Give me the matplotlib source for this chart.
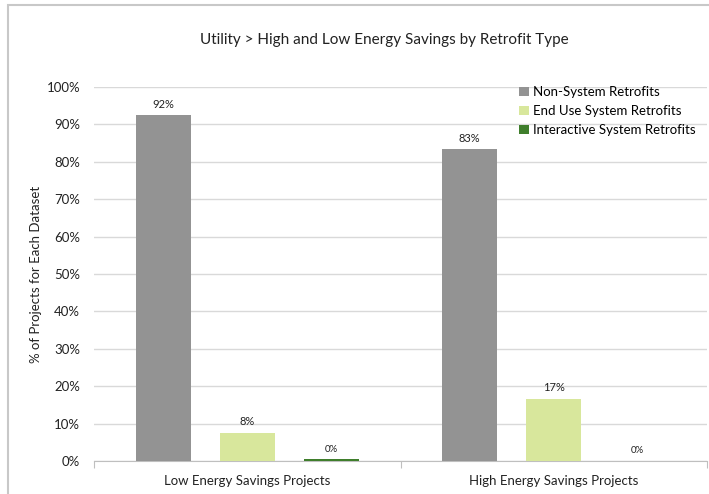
import numpy as np
import matplotlib.pyplot as plt
from matplotlib.patches import Rectangle

plt.rcParams['font.family'] = ['Lato', 'DejaVu Sans']

categories = ['Low Energy Savings Projects', 'High Energy Savings Projects']
series = ['Non-System Retrofits', 'End Use System Retrofits', 'Interactive System Retrofits']
values = {
    'Non-System Retrofits': [92.4, 83.4],
    'End Use System Retrofits': [7.6, 16.6],
    'Interactive System Retrofits': [0.5, 0.0],
}
labels = {
    'Non-System Retrofits': ['92%', '83%'],
    'End Use System Retrofits': ['8%', '17%'],
    'Interactive System Retrofits': ['0%', '0%'],
}
colors = ['#939393', '#d8e79c', '#3f7e2c']

fig = plt.figure(figsize=(7.09, 4.94), dpi=100)
ax = fig.add_axes([94 / 709, 1 - 461 / 494, 613 / 709, 374 / 494])

# outer chart frame
fig.patches.append(Rectangle((8 / 709, -0.1), 1.2, 1 - 5 / 494 + 0.1, transform=fig.transFigure,
                             fill=False, edgecolor='#c8c8c8', linewidth=1.5))

x = np.arange(len(categories))
width = 0.18
offsets = [-0.274, 0, 0.274]
for i, s in enumerate(series):
    bars = ax.bar(x + offsets[i], values[s], width, color=colors[i], label=s, zorder=3)
    fs = 7 if i == 2 else 8
    for b, lab in zip(bars, labels[s]):
        ax.annotate(lab, (b.get_x() + b.get_width() / 2, b.get_height()),
                    xytext=(0, 4), textcoords='offset points', ha='center', va='bottom',
                    fontsize=fs, color='#222222')

ax.set_xlim(-0.5, 1.5)
ax.set_ylim(0, 100)
ax.set_yticks(np.arange(0, 101, 10))
ax.set_yticklabels([f'{v}%' for v in range(0, 101, 10)], fontsize=9.5, color='#222222')
ax.yaxis.grid(True, color='#d9d9d9', linewidth=1, zorder=0)
ax.tick_params(axis='y', length=0, pad=10)

ax.set_xticks([-0.5, 0.5, 1.5])
ax.set_xticklabels([])
ax.set_xticks(x, minor=True)
ax.set_xticklabels(categories, minor=True, fontsize=9.5, color='#222222')
ax.tick_params(axis='x', which='major', length=5, color='#bfbfbf', direction='out')
ax.tick_params(axis='x', which='minor', length=0, pad=10)

for sp in ['top', 'right', 'left']:
    ax.spines[sp].set_visible(False)
ax.spines['bottom'].set_color('#bfbfbf')

ax.set_ylabel('% of Projects for Each Dataset', fontsize=9.5, color='#222222', labelpad=3)

fig.text(384 / 709, 1 - 40 / 494, 'Utility > High and Low Energy Savings by Retrofit Type',
         ha='center', va='center', fontsize=11, color='#222222')

ax.legend(loc='upper right', bbox_to_anchor=(1.0, 1.035), frameon=False, fontsize=9.5,
          handlelength=0.7, handleheight=0.7, handletextpad=0.3, labelspacing=0.55)

fig.savefig('out.png', dpi=100)
